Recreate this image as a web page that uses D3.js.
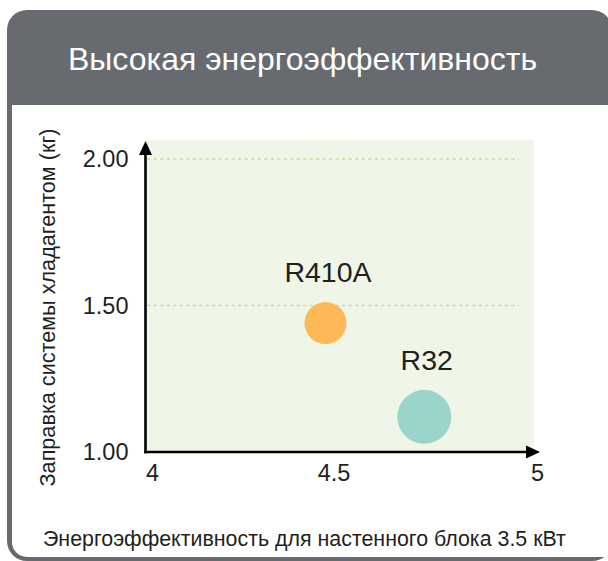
<!DOCTYPE html>
<html>
<head>
<meta charset="utf-8">
<script src="https://cdn.jsdelivr.net/npm/d3@7"></script>
<style>
  html, body { margin: 0; padding: 0; background: #ffffff; }
  svg { display: block; font-family: "Liberation Sans", Arial, sans-serif; }
</style>
</head>
<body>
<svg id="chart" width="608" height="561"></svg>
<script>
// Refrigerant comparison: efficiency vs. charge
const refrigerants = ["R410A", "R32"];
const efficiency = [4.478, 4.723];
const charge = [1.44, 1.12];
const xTicks = [4, 4.5, 5];
const xTickLabels = ["4", "4.5", "5"];
const yTicks = [1.0, 1.5, 2.0];
const yTickLabels = ["1.00", "1.50", "2.00"];
const gridTicks = [1.5, 2.0];

const title = "Высокая энергоэффективность";
const xTitle = "Энергоэффективность для настенного блока 3.5 кВт";
const yTitle = "Заправка системы хладагентом (кг)";

// styling
const pointColors = ["#fdb858", "#9bd4ca"];
const pointRadius = [21, 27];
const gray = "#676b6f";
const ink = "#231f20";
const tickFont = 23.5;

const svg = d3.select("#chart");

// card: grey frame with a header band
const cardX = 7, cardY = 10, cardR = 20, cardRight = 612, cardBottom = 561;
svg.append("path")
  .attr("d", (() => {
    const p = d3.path();
    p.moveTo(cardX, cardBottom - cardR);
    p.lineTo(cardX, cardY + cardR);
    p.arcTo(cardX, cardY, cardX + cardR, cardY, cardR);
    p.lineTo(cardRight - cardR, cardY);
    p.arcTo(cardRight, cardY, cardRight, cardY + cardR, cardR);
    p.lineTo(cardRight, cardBottom - cardR);
    p.arcTo(cardRight, cardBottom, cardRight - cardR, cardBottom, cardR);
    p.lineTo(cardX + cardR, cardBottom);
    p.arcTo(cardX, cardBottom, cardX, cardBottom - cardR, cardR);
    p.closePath();
    return p.toString();
  })())
  .attr("fill", gray);

// white body of the card
const inX = 12, inY = 105, inRight = 610, inBottom = 557, inR = 15;
svg.append("path")
  .attr("d", (() => {
    const p = d3.path();
    p.moveTo(inX, inY);
    p.lineTo(inRight, inY);
    p.lineTo(inRight, inBottom);
    p.lineTo(inX + inR, inBottom);
    p.arcTo(inX, inBottom, inX, inBottom - inR, inR);
    p.closePath();
    return p.toString();
  })())
  .attr("fill", "#ffffff");

// fit a text element to a target width
function fitText(sel, width) {
  const node = sel.node();
  const fs = parseFloat(sel.attr("font-size"));
  const w = node.getComputedTextLength();
  sel.attr("font-size", (fs * width / w).toFixed(2));
}

const titleText = svg.append("text")
  .attr("x", 68).attr("y", 70)
  .attr("font-size", 30)
  .attr("fill", "#ffffff")
  .text(title);
fitText(titleText, 469);

// scales
const x = d3.scaleLinear().domain([4, 4.5, 5]).range([152, 333.5, 537]);
const y = d3.scaleLinear().domain([1, 2]).range([452, 159]);

// plot background
const bgLeft = 147, bgTop = 140, bgRight = 534;
svg.append("rect")
  .attr("x", bgLeft).attr("y", bgTop)
  .attr("width", bgRight - bgLeft).attr("height", y(1) - bgTop)
  .attr("fill", "#eff5e7");

// dashed gridlines
svg.append("g").selectAll("line")
  .data(gridTicks)
  .join("line")
  .attr("x1", bgLeft).attr("x2", 519)
  .attr("y1", d => y(d)).attr("y2", d => y(d))
  .attr("stroke", "#c9e2a4")
  .attr("stroke-width", 1.3)
  .attr("stroke-dasharray", "3.5,3");

// axis lines with arrowheads
const axisX0 = 145.5;
svg.append("line")
  .attr("x1", axisX0).attr("x2", axisX0)
  .attr("y1", y(1) + 1.3).attr("y2", 150)
  .attr("stroke", "#000").attr("stroke-width", 2.6);
svg.append("path")
  .attr("d", `M${axisX0},141 L${axisX0 - 6.5},155 L${axisX0 + 6.5},155 Z`)
  .attr("fill", "#000");
svg.append("line")
  .attr("x1", axisX0 - 1.3).attr("x2", 530)
  .attr("y1", y(1)).attr("y2", y(1))
  .attr("stroke", "#000").attr("stroke-width", 2.6);
svg.append("path")
  .attr("d", `M540,${y(1)} L526,${y(1) - 6.5} L526,${y(1) + 6.5} Z`)
  .attr("fill", "#000");

// tick labels via d3 axes
const yAxis = svg.append("g")
  .attr("transform", `translate(${axisX0},0)`)
  .call(d3.axisLeft(y).tickValues(yTicks).tickSize(0).tickPadding(17)
    .tickFormat((d, i) => yTickLabels[i]));
yAxis.select(".domain").remove();
yAxis.attr("font-size", tickFont).attr("font-family", null);
yAxis.selectAll("text").attr("fill", ink);

const xAxis = svg.append("g")
  .attr("transform", `translate(0,${y(1)})`)
  .call(d3.axisBottom(x).tickValues(xTicks).tickSize(0).tickPadding(12)
    .tickFormat((d, i) => xTickLabels[i]));
xAxis.select(".domain").remove();
xAxis.attr("font-size", tickFont).attr("font-family", null);
xAxis.selectAll("text").attr("fill", ink);

// points
svg.append("g").selectAll("circle")
  .data(refrigerants)
  .join("circle")
  .attr("cx", (d, i) => x(efficiency[i]))
  .attr("cy", (d, i) => y(charge[i]))
  .attr("r", (d, i) => pointRadius[i])
  .attr("fill", (d, i) => pointColors[i]);

// point labels
svg.append("g").selectAll("text")
  .data(refrigerants)
  .join("text")
  .attr("x", (d, i) => x(efficiency[i]) + 2.5)
  .attr("y", (d, i) => y(charge[i]) - pointRadius[i] - 20)
  .attr("text-anchor", "middle")
  .attr("font-size", 28.5)
  .attr("fill", ink)
  .text(d => d);

// axis titles
const yt = svg.append("text")
  .attr("transform", "translate(55,307.5) rotate(-90)")
  .attr("text-anchor", "middle")
  .attr("font-size", 19)
  .attr("fill", ink)
  .text(yTitle);
fitText(yt, 358);

const xt = svg.append("text")
  .attr("x", 43).attr("y", 546)
  .attr("font-size", 19)
  .attr("fill", ink)
  .text(xTitle);
fitText(xt, 523);
</script>
</body>
</html>
